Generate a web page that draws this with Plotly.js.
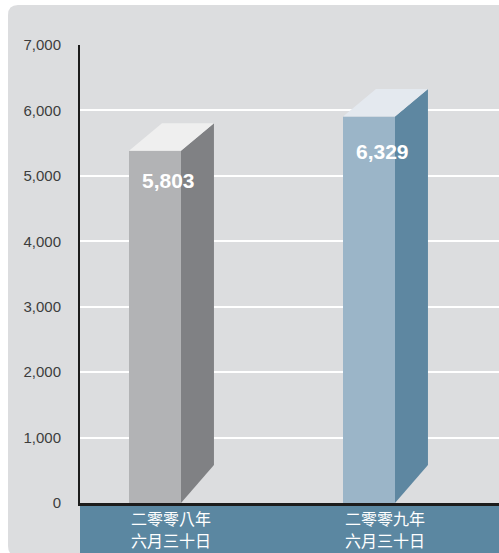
<!DOCTYPE html>
<html><head><meta charset="utf-8">
<script src="https://cdn.plot.ly/plotly-3.0.1.min.js"></script>
<style>html,body{margin:0;padding:0;background:#fff;}#chart{width:499px;height:553px;}</style>
</head><body><div id="chart"></div>
<script>
// ---- data ----
const categories = ["二零零八年<br>六月三十日", "二零零九年<br>六月三十日"];
const values = [5803, 6329];
const valueLabels = ["5,803", "6,329"];
const yTickVals = [0, 1000, 2000, 3000, 4000, 5000, 6000, 7000];
const yTickText = ["0", "1,000", "2,000", "3,000", "4,000", "5,000", "6,000", "7,000"];
const gridVals = [1000, 2000, 3000, 4000, 5000, 6000];

// ---- styles ----
const frontColors = ["#b2b3b5", "#9bb5c8"];
const sideColors = ["#808184", "#5e87a1"];
const topColors = ["#efefef", "#e4e9ef"];
const barW = 0.243, depthX = 0.154, depthTop = 420, depthBottom = 580;

// plot geometry (pixels)
const W = 499, H = 553, L = 80, R = 0, T = 45, B = 50;
const pw = W - L - R, ph = H - T - B;
const px = p => (p - L) / pw;
const py = p => (H - B - p) / ph;

const traces = [];
const xs = values.map((v, i) => i);
// front faces
traces.push({
  type: 'bar', x: xs, y: values.map(v => v - depthTop), width: barW,
  marker: {color: frontColors, line: {width: 0}}, hoverinfo: 'skip', showlegend: false
});
values.forEach((v, i) => {
  const xr = i + barW / 2, xl = i - barW / 2;
  traces.push({
    type: 'scatter', mode: 'lines', fill: 'toself', fillcolor: sideColors[i],
    line: {width: 0, color: sideColors[i]}, hoverinfo: 'skip', showlegend: false,
    x: [xr, xr, xr + depthX, xr + depthX, xr],
    y: [0, v - depthTop, v, depthBottom, 0]
  });
  traces.push({
    type: 'scatter', mode: 'lines', fill: 'toself', fillcolor: topColors[i],
    line: {width: 0, color: topColors[i]}, hoverinfo: 'skip', showlegend: false,
    x: [xl, xr, xr + depthX, xl + depthX, xl],
    y: [v - depthTop, v - depthTop, v, v, v - depthTop]
  });
});
traces.push({type: 'scatter', x: [null], y: [null], yaxis: 'y2', showlegend: false, hoverinfo: 'skip'});

// rounded panel path in paper coords
function roundRect(x0, y0, x1, y1, r) {
  const P = (a, b) => px(a) + ',' + py(b);
  return 'M' + P(x0 + r, y0) + ' L' + P(x1 - r, y0) + ' Q' + P(x1, y0) + ' ' + P(x1, y0 + r) +
    ' L' + P(x1, y1 - r) + ' Q' + P(x1, y1) + ' ' + P(x1 - r, y1) +
    ' L' + P(x0 + r, y1) + ' Q' + P(x0, y1) + ' ' + P(x0, y1 - r) +
    ' L' + P(x0, y0 + r) + ' Q' + P(x0, y0) + ' ' + P(x0 + r, y0) + ' Z';
}

const annotations = values.map((v, i) => ({
  x: i + depthX * 0.4, y: v * 0.85, xref: 'x', yref: 'y', text: '<b>' + valueLabels[i] + '</b>',
  showarrow: false, font: {family: 'Liberation Sans, Arial, sans-serif', size: 21, color: '#ffffff'}
}));
// category labels, one annotation per line
const lineCentersPx = [518, 540];
categories.forEach((c, i) => {
  c.split('<br>').forEach((line, k) => {
    annotations.push({
      x: i + depthX / 2, y: py(lineCentersPx[k]), xref: 'x', yref: 'paper',
      text: line, showarrow: false, yanchor: 'middle',
      font: {family: 'Noto Sans CJK TC, sans-serif', size: 16, color: '#ffffff'}
    });
  });
});

const xRange = [-(75 / 214), -(75 / 214) + pw / 214];
const layout = {
  width: W, height: H,
  margin: {l: L, r: R, t: T, b: B, pad: 0},
  paper_bgcolor: '#ffffff', plot_bgcolor: 'rgba(0,0,0,0)',
  showlegend: false,
  xaxis: {
    range: xRange, fixedrange: true,
    showticklabels: false,
    ticks: '', showgrid: false, zeroline: false,
    showline: true, linecolor: '#1c1c1c', linewidth: 3
  },
  yaxis: {
    range: [0, 7000], fixedrange: true,
    tickvals: yTickVals, ticktext: yTickText,
    tickfont: {family: 'Liberation Sans, Arial, sans-serif', size: 15, color: '#3d3d3d'},
    ticks: '', showgrid: false, zeroline: false,
    showline: true, linecolor: '#1c1c1c', linewidth: 2, ticklabelstandoff: 14
  },
  yaxis2: {
    overlaying: 'y', range: [0, 7000], tickvals: gridVals, showticklabels: false,
    showgrid: true, gridcolor: '#ffffff', gridwidth: 2, zeroline: false, showline: false, ticks: ''
  },
  shapes: [
    {type: 'path', xref: 'paper', yref: 'paper', layer: 'below',
     path: roundRect(8, 5, 520, 556, 10), fillcolor: '#dcdddf', line: {width: 0}},
    {type: 'rect', xref: 'paper', yref: 'paper', layer: 'below',
     x0: 0, x1: px(510), y0: py(560), y1: 0, fillcolor: '#5b87a1', line: {width: 0}}
  ],
  annotations: annotations
};
Plotly.newPlot('chart', traces, layout, {displayModeBar: false, staticPlot: true});
</script></body></html>
